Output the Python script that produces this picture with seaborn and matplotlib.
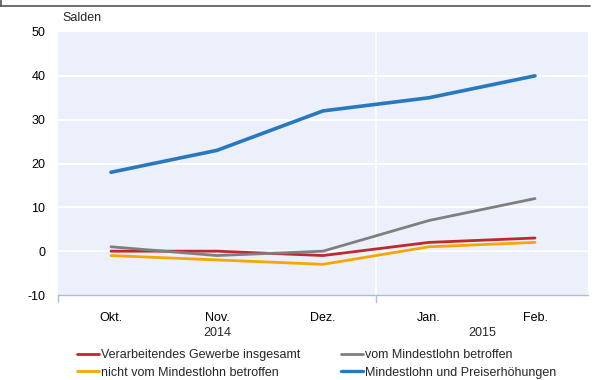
import seaborn as sns
import matplotlib.pyplot as plt
import pandas as pd
import numpy as np
from matplotlib.lines import Line2D

# Data
months = ['Okt.', 'Nov.', 'Dez.', 'Jan.', 'Feb.']
years = ['2014', '2015']
gesamt = [0, 0, -1, 2, 3]
betroffen = [1, -1, 0, 7, 12]
nicht_betroffen = [-1, -2, -3, 1, 2]
preise = [18, 23, 32, 35, 40]

series = {
    'Verarbeitendes Gewerbe insgesamt': gesamt,
    'vom Mindestlohn betroffen': betroffen,
    'nicht vom Mindestlohn betroffen': nicht_betroffen,
    'Mindestlohn und Preiserhöhungen': preise,
}
colors = ['#c0282d', '#7f7f7f', '#f7a600', '#2878c0']

rows = []
for name, vals in series.items():
    for i, v in enumerate(vals):
        rows.append({'pos': i, 'value': v, 'series': name})
df = pd.DataFrame(rows)

sns.set_style('white')
plt.rcParams['font.family'] = ['Liberation Sans', 'DejaVu Sans']
FS = 9

fig = plt.figure(figsize=(5.98, 3.8), dpi=100)
ax = fig.add_axes([58 / 598, 1 - 295 / 380, 530 / 598, 263 / 380])
ax.set_facecolor('#ebf0fa')

palette = dict(zip(series.keys(), colors))
widths = {k: 2.0 for k in series}
widths['Mindestlohn und Preiserhöhungen'] = 2.6
for name in series:
    sub = df[df['series'] == name]
    sns.lineplot(data=sub, x='pos', y='value', color=palette[name],
                 lw=widths[name], ax=ax, legend=False, zorder=3)

ax.set_xlim(-0.5, 4.5)
ax.set_ylim(-10, 50)
ax.set_yticks(range(-10, 51, 10))
ax.set_yticklabels([str(t) for t in range(-10, 51, 10)])
for t in range(0, 50, 10):
    ax.axhline(t, color='white', lw=1.3, zorder=1)
ax.axvline(2.5, color='white', lw=1.3, zorder=1)

ax.set_xticks(range(len(months)))
ax.set_xticklabels(months)
ax.set_xlabel('')
ax.set_ylabel('')
for s in ['top', 'right', 'left']:
    ax.spines[s].set_visible(False)
ax.spines['bottom'].set_color('#a8bde6')
ax.spines['bottom'].set_linewidth(1.0)
ax.tick_params(axis='x', length=0, pad=12, labelsize=FS, colors='#000000')
ax.tick_params(axis='y', length=0, pad=9, labelsize=FS, colors='#000000')

# small separator ticks below the axis
for xs in [-0.5, 2.5]:
    ax.plot([xs, xs], [0, -0.025], transform=ax.get_xaxis_transform(),
            color='#a8bde6', lw=1, clip_on=False)

# year labels
ax.text(1, -0.12, years[0], transform=ax.get_xaxis_transform(),
        ha='center', va='top', fontsize=FS)
ax.text(3.5, -0.12, years[1], transform=ax.get_xaxis_transform(),
        ha='center', va='top', fontsize=FS)

fig.text(62 / 598, 1 - 18 / 380, 'Salden', ha='left', va='center', fontsize=FS)

# legend
handles = [Line2D([0], [0], color=c, lw=2.4 if i == 3 else 2.0)
           for i, c in enumerate(colors)]
labels = list(series.keys())
order = [0, 2, 1, 3]
fig.legend([handles[i] for i in order], [labels[i] for i in order],
           loc='upper left', bbox_to_anchor=(77 / 598, 1 - 349 / 380),
           ncol=2, frameon=False, fontsize=FS, handlelength=1.75,
           handletextpad=0.15, columnspacing=3.3, labelspacing=0.45,
           borderaxespad=0, borderpad=0)

# frame remnant at the top
fig.add_artist(Line2D([0, 590 / 598], [1 - 6 / 380, 1 - 6 / 380],
                      color='#555555', lw=1.2, transform=fig.transFigure))
fig.add_artist(Line2D([1 / 598, 1 / 598], [1, 1 - 6 / 380],
                      color='#555555', lw=1.2, transform=fig.transFigure))

fig.savefig('out.png', dpi=100)
